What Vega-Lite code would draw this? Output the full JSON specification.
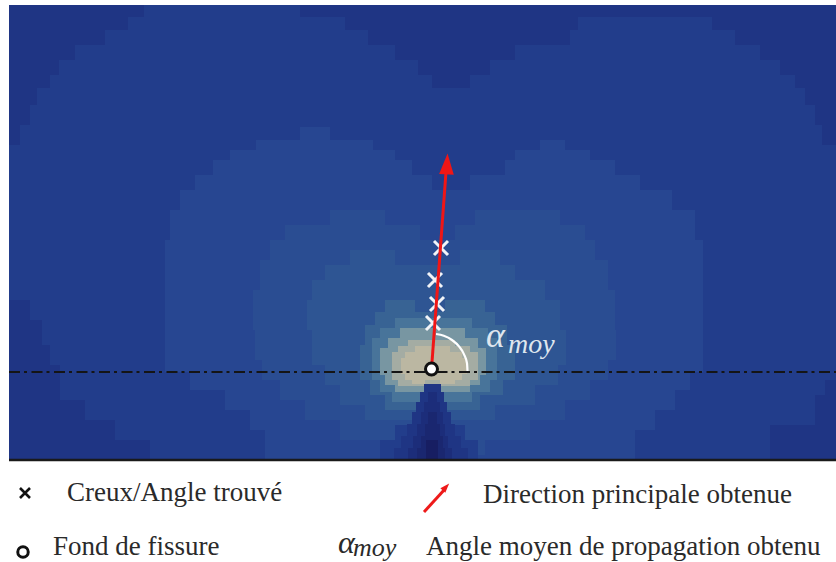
{"$schema":"https://vega.github.io/schema/vega-lite/v6.json","width":836,"height":562,"padding":0,"autosize":{"type":"none"},"background":"white","view":{"stroke":null},
"encoding":{"x":{"field":"x","type":"quantitative","axis":null,"scale":{"domain":[0,836],"nice":false,"zero":false}},"y":{"field":"y","type":"quantitative","axis":null,"scale":{"domain":[562,0],"nice":false,"zero":false}}},
"layer":[
{"data":{"values":[
{"x":9,"x2":836,"y":5,"y2":460,"v":3},
{"x":9,"x2":144,"y":5,"y2":17,"v":2},{"x":300,"x2":836,"y":5,"y2":17,"v":2},
{"x":9,"x2":128,"y":17,"y2":30,"v":2},{"x":345,"x2":578,"y":17,"y2":30,"v":2},{"x":712,"x2":836,"y":17,"y2":30,"v":2},
{"x":9,"x2":105,"y":30,"y2":45,"v":2},{"x":368,"x2":570,"y":30,"y2":45,"v":2},{"x":735,"x2":836,"y":30,"y2":45,"v":2},
{"x":9,"x2":75,"y":45,"y2":60,"v":2},{"x":395,"x2":515,"y":45,"y2":60,"v":2},{"x":760,"x2":836,"y":45,"y2":60,"v":2},
{"x":9,"x2":59,"y":60,"y2":75,"v":2},{"x":418,"x2":490,"y":60,"y2":75,"v":2},{"x":780,"x2":836,"y":60,"y2":75,"v":2},
{"x":9,"x2":50,"y":75,"y2":88,"v":2},{"x":432,"x2":470,"y":75,"y2":88,"v":2},{"x":795,"x2":836,"y":75,"y2":88,"v":2},
{"x":9,"x2":37,"y":88,"y2":105,"v":2},{"x":805,"x2":836,"y":88,"y2":105,"v":2},
{"x":9,"x2":30,"y":105,"y2":125,"v":2},{"x":815,"x2":836,"y":105,"y2":125,"v":2},
{"x":9,"x2":20,"y":125,"y2":145,"v":2},{"x":822,"x2":836,"y":125,"y2":145,"v":2},
{"x":9,"x2":30,"y":300,"y2":320,"v":2},{"x":9,"x2":42,"y":320,"y2":345,"v":2},{"x":9,"x2":50,"y":345,"y2":365,"v":2},{"x":9,"x2":60,"y":365,"y2":400,"v":2},
{"x":9,"x2":85,"y":400,"y2":420,"v":2},{"x":9,"x2":115,"y":420,"y2":440,"v":2},{"x":9,"x2":150,"y":440,"y2":460,"v":2},
{"x":825,"x2":836,"y":380,"y2":395,"v":2},{"x":815,"x2":836,"y":395,"y2":425,"v":2},{"x":770,"x2":836,"y":425,"y2":460,"v":2},
{"x":300,"x2":330,"y":127,"y2":140,"v":4},
{"x":256,"x2":373,"y":140,"y2":150,"v":4},{"x":540,"x2":565,"y":140,"y2":150,"v":4},
{"x":230,"x2":395,"y":150,"y2":160,"v":4},{"x":515,"x2":590,"y":150,"y2":160,"v":4},
{"x":213,"x2":412,"y":160,"y2":175,"v":4},{"x":505,"x2":615,"y":160,"y2":175,"v":4},
{"x":195,"x2":432,"y":175,"y2":190,"v":4},{"x":470,"x2":640,"y":175,"y2":190,"v":4},
{"x":180,"x2":672,"y":190,"y2":210,"v":4},{"x":170,"x2":695,"y":210,"y2":240,"v":4},{"x":165,"x2":703,"y":240,"y2":372,"v":4},
{"x":190,"x2":690,"y":372,"y2":390,"v":4},{"x":225,"x2":675,"y":390,"y2":410,"v":4},{"x":250,"x2":655,"y":410,"y2":430,"v":4},{"x":265,"x2":635,"y":430,"y2":460,"v":4},
{"x":330,"x2":385,"y":210,"y2":225,"v":5},{"x":475,"x2":560,"y":210,"y2":225,"v":5},
{"x":285,"x2":420,"y":225,"y2":240,"v":5},{"x":455,"x2":585,"y":225,"y2":240,"v":5},
{"x":270,"x2":595,"y":240,"y2":260,"v":5},{"x":260,"x2":608,"y":260,"y2":290,"v":5},{"x":253,"x2":615,"y":290,"y2":330,"v":5},{"x":255,"x2":616,"y":330,"y2":360,"v":5},
{"x":262,"x2":608,"y":360,"y2":380,"v":5},{"x":280,"x2":590,"y":380,"y2":400,"v":5},{"x":305,"x2":565,"y":400,"y2":420,"v":5},{"x":340,"x2":530,"y":420,"y2":440,"v":5},{"x":390,"x2":485,"y":440,"y2":455,"v":5},
{"x":350,"x2":395,"y":250,"y2":265,"v":6},{"x":460,"x2":500,"y":250,"y2":265,"v":6},
{"x":325,"x2":515,"y":265,"y2":280,"v":6},{"x":312,"x2":545,"y":280,"y2":300,"v":6},{"x":307,"x2":560,"y":300,"y2":330,"v":6},{"x":312,"x2":566,"y":330,"y2":365,"v":6},
{"x":325,"x2":558,"y":365,"y2":385,"v":6},{"x":340,"x2":535,"y":385,"y2":405,"v":6},{"x":365,"x2":495,"y":405,"y2":420,"v":6},
{"x":385,"x2":415,"y":300,"y2":312,"v":7},{"x":445,"x2":485,"y":300,"y2":312,"v":7},
{"x":375,"x2":495,"y":312,"y2":325,"v":7},{"x":365,"x2":507,"y":325,"y2":345,"v":7},{"x":360,"x2":515,"y":345,"y2":380,"v":7},{"x":370,"x2":503,"y":380,"y2":395,"v":7},{"x":385,"x2":480,"y":395,"y2":410,"v":7},
{"x":395,"x2":472,"y":318,"y2":328,"v":7.5},{"x":380,"x2":488,"y":328,"y2":338,"v":7.5},{"x":372,"x2":497,"y":338,"y2":380,"v":7.5},{"x":380,"x2":490,"y":380,"y2":392,"v":7.5},{"x":392,"x2":472,"y":392,"y2":402,"v":7.5},
{"x":400,"x2":465,"y":328,"y2":338,"v":8},{"x":388,"x2":478,"y":338,"y2":348,"v":8},{"x":380,"x2":486,"y":348,"y2":375,"v":8},{"x":385,"x2":480,"y":375,"y2":385,"v":8},{"x":395,"x2":470,"y":385,"y2":392,"v":8},
{"x":408,"x2":455,"y":340,"y2":346,"v":9},{"x":398,"x2":470,"y":346,"y2":352,"v":9},{"x":392,"x2":478,"y":352,"y2":380,"v":9},{"x":398,"x2":470,"y":380,"y2":386,"v":9},
{"x":415,"x2":450,"y":346,"y2":352,"v":10},{"x":405,"x2":462,"y":352,"y2":358,"v":10},{"x":401,"x2":467,"y":358,"y2":374,"v":10},{"x":405,"x2":462,"y":374,"y2":380,"v":10},{"x":412,"x2":425,"y":380,"y2":384,"v":10},{"x":440,"x2":455,"y":380,"y2":384,"v":10},
{"x":395,"x2":465,"y":425,"y2":440,"v":3},{"x":380,"x2":478,"y":440,"y2":460,"v":3},
{"x":424,"x2":441,"y":384,"y2":392,"v":2},{"x":420,"x2":444,"y":392,"y2":402,"v":2},{"x":416,"x2":447,"y":402,"y2":412,"v":2},{"x":412,"x2":451,"y":412,"y2":424,"v":2},{"x":407,"x2":455,"y":424,"y2":436,"v":2},{"x":401,"x2":461,"y":436,"y2":448,"v":2},{"x":394,"x2":468,"y":448,"y2":460,"v":2},
{"x":428,"x2":437,"y":392,"y2":402,"v":1.5},{"x":424,"x2":440,"y":402,"y2":412,"v":1.5},{"x":421,"x2":443,"y":412,"y2":424,"v":1.5},{"x":417,"x2":445,"y":424,"y2":436,"v":1.5},{"x":413,"x2":448,"y":436,"y2":448,"v":1.5},{"x":408,"x2":452,"y":448,"y2":460,"v":1.5},
{"x":428,"x2":437,"y":412,"y2":424,"v":1},{"x":425,"x2":440,"y":424,"y2":436,"v":1},{"x":421,"x2":443,"y":436,"y2":448,"v":1},{"x":417,"x2":445,"y":448,"y2":460,"v":1},
{"x":426,"x2":438,"y":440,"y2":460,"v":0}
]},
"mark":{"type":"rect","strokeWidth":0},
"encoding":{"x2":{"field":"x2"},"y2":{"field":"y2"},
"color":{"field":"v","type":"quantitative","legend":null,"scale":{"domain":[0,1,1.5,2,3,4,5,6,7,7.5,8,9,10],"range":["#171e62","#1a2770","#1c2d7a","#1f3584","#223d8b","#274691","#2a4d92","#2e5593","#386394","#48749a","#7896a2","#a4aca3","#bbb7a2"]}}}},
{"data":{"values":[{"x":9,"y":460},{"x":836,"y":460}]},"mark":{"type":"line","color":"#1a1a1a","strokeWidth":2.5}},
{"data":{"values":[{"x":9,"y":372},{"x":836,"y":372}]},"mark":{"type":"line","color":"#151515","strokeWidth":2,"strokeDash":[11,4,3,4.5]}},
{"data":{"values":[{"x":436,"y":334},{"x":443.8,"y":335.7},{"x":452,"y":340},{"x":459,"y":346.4},{"x":464,"y":354.3},{"x":467,"y":363.2},{"x":467.5,"y":371}]},"mark":{"type":"line","color":"white","strokeWidth":2.2,"interpolate":"monotone"}},
{"data":{"values":[{"x":441,"y":248},{"x":435,"y":280},{"x":437,"y":304},{"x":433,"y":323}]},"mark":{"type":"point","shape":"M-1,-1L1,1M-1,1L1,-1","size":196,"stroke":"#f2f4f8","strokeWidth":3,"fill":null,"opacity":1}},
{"data":{"values":[{"x":431.5,"y":369},{"x":446,"y":172}]},"mark":{"type":"line","color":"#f01616","strokeWidth":3}},
{"data":{"values":[{"x":447,"y":164}]},"mark":{"type":"point","shape":"M0,-1L0.7,1L-0.7,1Z","size":441,"angle":3,"fill":"#f01616","strokeWidth":0,"opacity":1,"filled":true}},
{"data":{"values":[{"x":424,"y":512},{"x":445,"y":489}]},"mark":{"type":"line","color":"#ee1a1a","strokeWidth":3}},
{"data":{"values":[{"x":446,"y":487}]},"mark":{"type":"point","shape":"M0,-1L0.7,1L-0.7,1Z","size":90,"angle":42,"fill":"#ee1a1a","strokeWidth":0,"opacity":1,"filled":true}},
{"data":{"values":[{"x":431.5,"y":369}]},"mark":{"type":"point","shape":"circle","size":144,"fill":"white","stroke":"#111111","strokeWidth":3,"opacity":1,"filled":false}},
{"data":{"values":[{"x":25,"y":493}]},"mark":{"type":"point","shape":"M-1,-1L1,1M-1,1L1,-1","size":100,"stroke":"#111111","strokeWidth":2.6,"fill":null,"opacity":1}},
{"data":{"values":[{"x":23,"y":552}]},"mark":{"type":"point","shape":"circle","size":110,"fill":"white","stroke":"#111111","strokeWidth":3,"opacity":1,"filled":false}},
{"data":{"values":[{"x":67,"y":501,"t":"Creux/Angle trouvé"},{"x":483,"y":503,"t":"Direction principale obtenue"},{"x":53,"y":555,"t":"Fond de fissure"},{"x":426,"y":555,"t":"Angle moyen de propagation obtenu"}]},"mark":{"type":"text","align":"left","baseline":"alphabetic","font":"Liberation Serif","fontSize":27,"color":"#2a2a2a"},"encoding":{"text":{"field":"t"}}},
{"data":{"values":[{"x":338,"y":553,"t":"α"}]},"mark":{"type":"text","align":"left","baseline":"alphabetic","font":"Liberation Serif","fontStyle":"italic","fontSize":32,"color":"#2a2a2a"},"encoding":{"text":{"field":"t"}}},
{"data":{"values":[{"x":353,"y":556,"t":"moy"}]},"mark":{"type":"text","align":"left","baseline":"alphabetic","font":"Liberation Serif","fontStyle":"italic","fontSize":26,"color":"#2a2a2a"},"encoding":{"text":{"field":"t"}}},
{"data":{"values":[{"x":486,"y":347,"t":"α"}]},"mark":{"type":"text","align":"left","baseline":"alphabetic","font":"Liberation Serif","fontStyle":"italic","fontSize":36,"color":"#dfe6ee"},"encoding":{"text":{"field":"t"}}},
{"data":{"values":[{"x":508,"y":353,"t":"moy"}]},"mark":{"type":"text","align":"left","baseline":"alphabetic","font":"Liberation Serif","fontStyle":"italic","fontSize":28,"color":"#dfe6ee"},"encoding":{"text":{"field":"t"}}}
]}
